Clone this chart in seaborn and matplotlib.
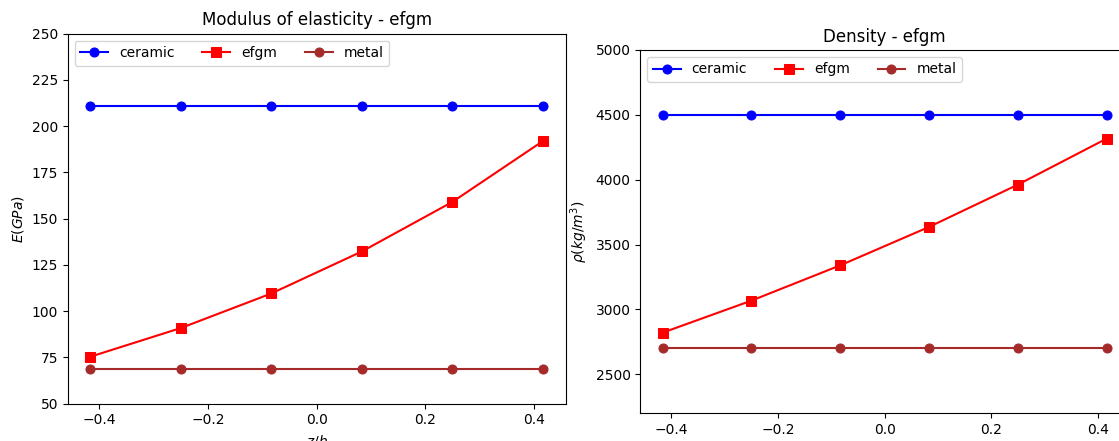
# Propiedades del material FGM a lo largo del espesor (ceramica / efgm / metal)

import numpy as np
import pandas as pd
import matplotlib
matplotlib.use("Agg")
import matplotlib.pyplot as plt
import seaborn as sns

# posiciones a lo largo del espesor
z_h = [-0.4167, -0.25, -0.0833, 0.0833, 0.25, 0.4167]

# modulo de elasticidad (GPa)
E_ceramic = [211, 211, 211, 211, 211, 211]
E_efgm = [75.4, 90.9, 109.6, 132.3, 159.1, 192.0]
E_metal = [69, 69, 69, 69, 69, 69]

# densidad (kg/m^3)
rho_ceramic = [4500, 4500, 4500, 4500, 4500, 4500]
rho_efgm = [2821, 3068, 3340, 3636, 3962, 4317]
rho_metal = [2700, 2700, 2700, 2700, 2700, 2700]

series_names = ["ceramic", "efgm", "metal"]
colores = {"ceramic": "blue", "efgm": "red", "metal": "brown"}
marcadores = {"ceramic": "o", "efgm": "s", "metal": "o"}


def dibujar(ax, valores, titulo, ylabel, ylim):
    for nombre, vals in zip(series_names, valores):
        df = pd.DataFrame({"z": z_h, "v": vals})
        sns.lineplot(
            data=df,
            x="z",
            y="v",
            ax=ax,
            color=colores[nombre],
            marker=marcadores[nombre],
            markersize=6.5,
            markeredgecolor=colores[nombre],
            linewidth=1.5,
            label=nombre,
        )
    ax.set_title(titulo, fontsize=12)
    ax.set_ylabel(ylabel)
    ax.set_ylim(*ylim)
    ax.legend(loc="upper left", ncol=3)


fig = plt.figure(figsize=(11.19, 4.41), dpi=100)

ax1 = fig.add_axes([0.0605, 0.0846, 0.4450, 0.8390])
dibujar(
    ax1,
    [E_ceramic, E_efgm, E_metal],
    "Modulus of elasticity - efgm",
    "$E(GPa)$",
    (50, 250),
)
# en la referencia la etiqueta queda cortada por el borde inferior
ax1.set_xlabel("$z/h$")

ax2 = fig.add_axes([0.5722, 0.0628, 0.4367, 0.8240])
dibujar(
    ax2,
    [rho_ceramic, rho_efgm, rho_metal],
    "Density - efgm",
    r"$\rho(kg/m^3)$",
    (2200, 5000),
)
ax2.set_xlabel("")

fig.savefig("out.png", dpi=100)
